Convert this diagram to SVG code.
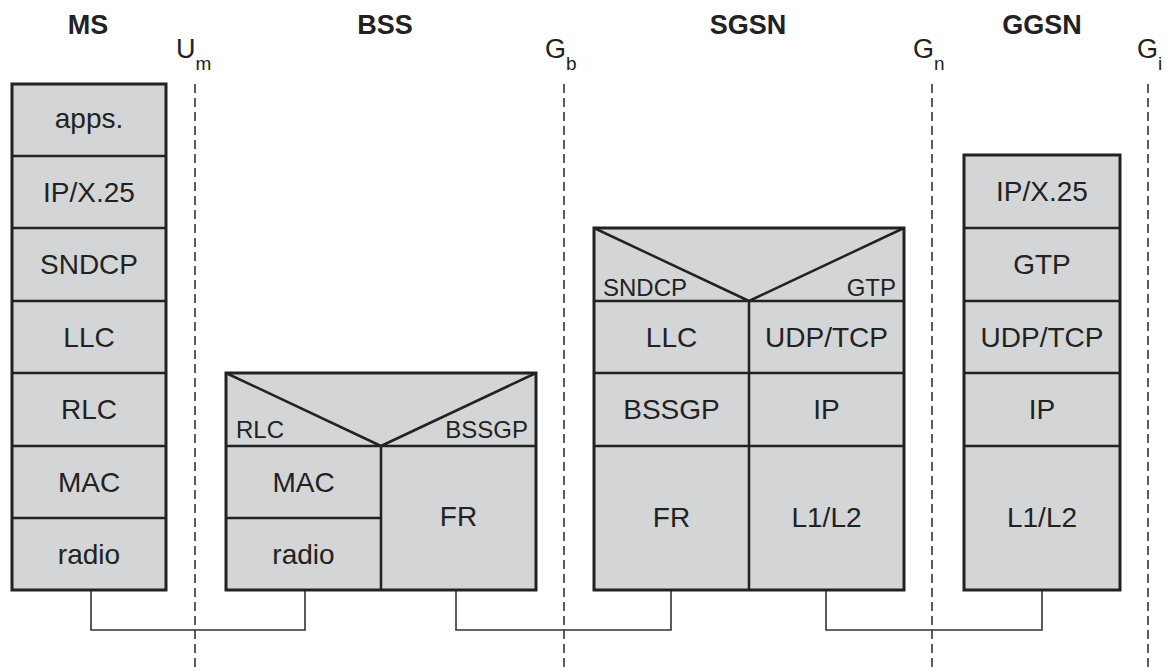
<svg xmlns="http://www.w3.org/2000/svg" width="1166" height="671" viewBox="0 0 1166 671">
<style>
.box{fill:#d4d5d7;stroke:#222;stroke-width:3}
.div{stroke:#222;stroke-width:2.5;fill:none}
.t{font-family:"Liberation Sans",Arial,sans-serif;font-size:28px;fill:#222;text-anchor:middle}
.s{font-family:"Liberation Sans",Arial,sans-serif;font-size:24px;fill:#222}
.h{font-family:"Liberation Sans",Arial,sans-serif;font-size:27px;font-weight:bold;fill:#222;text-anchor:middle}
.i{font-family:"Liberation Sans",Arial,sans-serif;font-size:27px;fill:#222}
.sub{font-size:19px}
.dash{stroke:#333;stroke-width:1.6;stroke-dasharray:9 5;fill:none}
.con{stroke:#333;stroke-width:1.6;fill:none}
</style>
<rect width="1166" height="671" fill="#fff"/>
<g id="headings">
<text class="h" x="88" y="34">MS</text>
<text class="h" x="385" y="34">BSS</text>
<text class="h" x="748" y="34">SGSN</text>
<text class="h" x="1042" y="34">GGSN</text>
</g>
<g id="interfaces">
<text class="i" x="176" y="58">U<tspan class="sub" dy="12">m</tspan></text>
<text class="i" x="545" y="58">G<tspan class="sub" dy="12">b</tspan></text>
<text class="i" x="913" y="58">G<tspan class="sub" dy="12">n</tspan></text>
<text class="i" x="1137" y="58">G<tspan class="sub" dy="12">i</tspan></text>
<line class="dash" x1="195" y1="84" x2="195" y2="671"/>
<line class="dash" x1="564" y1="84" x2="564" y2="671"/>
<line class="dash" x1="932" y1="84" x2="932" y2="671"/>
<line class="dash" x1="1148" y1="84" x2="1148" y2="671"/>
</g>
<g id="connectors">
<polyline class="con" points="91,590 91,630 305,630 305,590"/>
<polyline class="con" points="456,590 456,630 671,630 671,590"/>
<polyline class="con" points="826,590 826,630 1042,630 1042,590"/>
</g>
<g id="MS">
<rect class="box" x="12" y="84" width="154" height="506"/>
<path class="div" d="M12 156H166M12 228H166M12 301H166M12 373H166M12 446H166M12 518H166"/>
<text class="t" x="89" y="128">apps.</text>
<text class="t" x="89" y="202">IP/X.25</text>
<text class="t" x="89" y="274">SNDCP</text>
<text class="t" x="89" y="347">LLC</text>
<text class="t" x="89" y="419">RLC</text>
<text class="t" x="89" y="492">MAC</text>
<text class="t" x="89" y="564">radio</text>
</g>
<g id="BSS">
<rect class="box" x="226" y="373" width="310" height="217"/>
<path class="div" d="M226 446H536M381 446V590M226 518H381M226 373L381 446L536 373"/>
<text class="s" x="236" y="438">RLC</text>
<text class="s" x="528" y="438" text-anchor="end">BSSGP</text>
<text class="t" x="303.5" y="492">MAC</text>
<text class="t" x="303.5" y="564">radio</text>
<text class="t" x="458.5" y="526">FR</text>
</g>
<g id="SGSN">
<rect class="box" x="594" y="228" width="310" height="362"/>
<path class="div" d="M594 301H904M749 301V590M594 373H904M594 446H904M594 228L749 301L904 228"/>
<text class="s" x="603" y="296">SNDCP</text>
<text class="s" x="896" y="296" text-anchor="end">GTP</text>
<text class="t" x="671.5" y="347">LLC</text>
<text class="t" x="826.5" y="347">UDP/TCP</text>
<text class="t" x="671.5" y="419">BSSGP</text>
<text class="t" x="826.5" y="419">IP</text>
<text class="t" x="671.5" y="527">FR</text>
<text class="t" x="826.5" y="527">L1/L2</text>
</g>
<g id="GGSN">
<rect class="box" x="964" y="155" width="156" height="435"/>
<path class="div" d="M964 228H1120M964 301H1120M964 373H1120M964 446H1120"/>
<text class="t" x="1042" y="201">IP/X.25</text>
<text class="t" x="1042" y="274">GTP</text>
<text class="t" x="1042" y="347">UDP/TCP</text>
<text class="t" x="1042" y="419">IP</text>
<text class="t" x="1042" y="527">L1/L2</text>
</g>
</svg>
